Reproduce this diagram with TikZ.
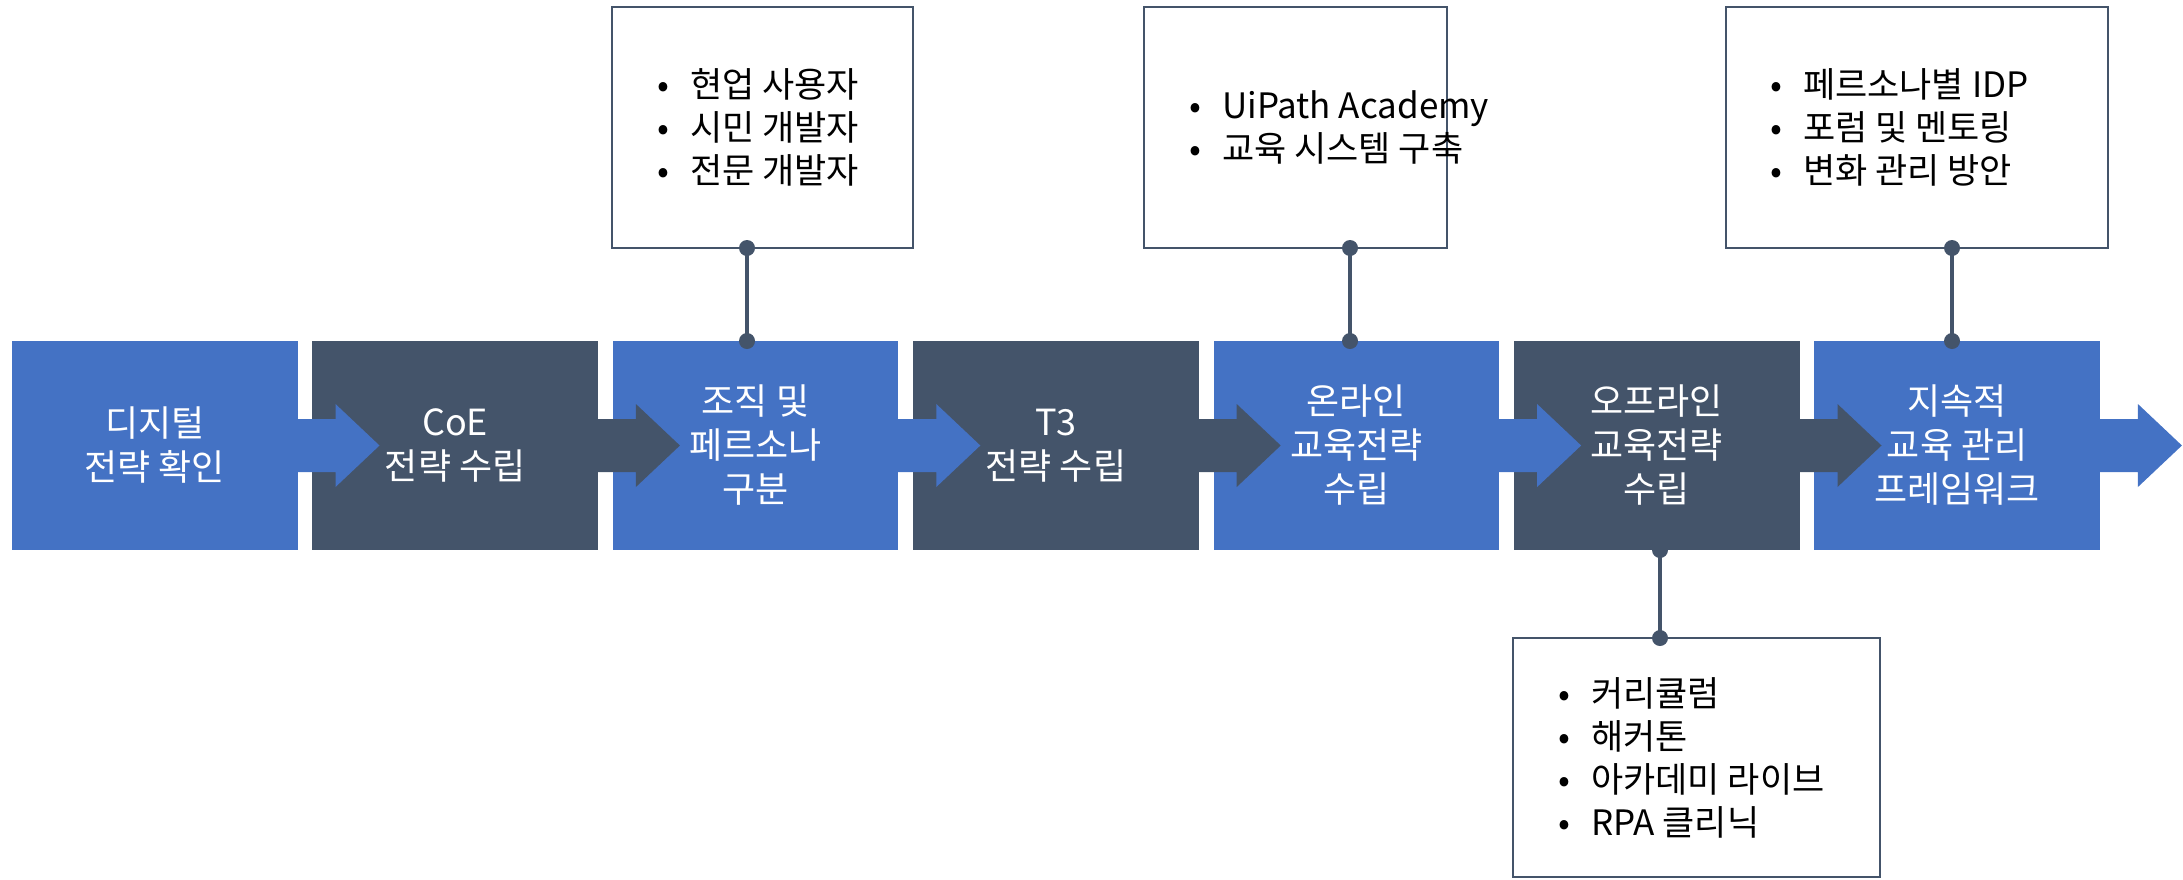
\documentclass[tikz,border=0pt]{standalone}
\usepackage{fontspec}
\setmainfont{Noto Sans CJK KR}
\usetikzlibrary{calc}
\definecolor{cblue}{HTML}{4472C4}
\definecolor{cdark}{HTML}{44546A}
\newcommand\bulletmark{\makebox[33pt][l]{•}}
\begin{document}
\begin{tikzpicture}[x=1pt,y=-1pt,
  stagebox/.style={anchor=north west, minimum width=285.5pt, minimum height=209pt, inner sep=0pt, outer sep=0pt, draw=none},
  stagetext/.style={text=white, align=center, font=\fontsize{36}{44}\selectfont, inner sep=0pt},
  callout/.style={anchor=north west, draw=cdark, line width=2pt, fill=white, inner sep=0pt, outer sep=0pt},
  callouttext/.style={anchor=west, align=left, font=\fontsize{35}{43}\selectfont, inner sep=0pt, text=black},
  conn/.style={draw=cdark, line width=4pt},
  dot/.style={circle, fill=cdark, minimum size=16pt, inner sep=0pt}
]
\useasboundingbox (0,0) rectangle (2183,879);
% stage boxes
\node[stagebox, fill=cblue] (b1) at (12,341) {};
\node[stagebox, fill=cdark] (b2) at (312.4,341) {};
\node[stagebox, fill=cblue] (b3) at (612.8,341) {};
\node[stagebox, fill=cdark] (b4) at (913.2,341) {};
\node[stagebox, fill=cblue] (b5) at (1213.6,341) {};
\node[stagebox, fill=cdark] (b6) at (1514,341) {};
\node[stagebox, fill=cblue] (b7) at (1814.4,341) {};
% arrows
\foreach \b/\c in {b1/cblue,b2/cdark,b3/cblue,b4/cdark,b5/cblue,b6/cdark,b7/cblue}{
  \fill[\c] ($(\b.east)+(-1,-26.5)$) -- ++(39,0) -- ++(0,-15) -- ++(44,41.5) -- ++(-44,41.5) -- ++(0,-15) -- ++(-39,0) -- cycle;
}
% stage texts
\node[stagetext] (s1) at (b1.center) {디지털\\전략 확인};
\node[stagetext] (s2) at (b2.center) {CoE\\전략 수립};
\node[stagetext] (s3) at (b3.center) {조직 및\\페르소나\\구분};
\node[stagetext] (s4) at (b4.center) {T3\\전략 수립};
\node[stagetext] (s5) at (b5.center) {온라인\\교육전략\\수립};
\node[stagetext] (s6) at (b6.center) {오프라인\\교육전략\\수립};
\node[stagetext] (s7) at (b7.center) {지속적\\교육 관리\\프레임워크};
% callout boxes
\node[callout, minimum width=301pt, minimum height=241pt] (t1) at (612,7) {};
\node[callout, minimum width=303pt, minimum height=241pt] (t2) at (1144,7) {};
\node[callout, minimum width=382pt, minimum height=241pt] (t3) at (1726,7) {};
\node[callout, minimum width=367pt, minimum height=239pt] (t4) at (1513,638) {};
% connectors
\coordinate (k1) at (747,0);
\coordinate (k2) at (1350,0);
\coordinate (k3) at (1952,0);
\coordinate (k4) at (1660,0);
\draw[conn] (t1.south -| k1) -- (b3.north -| k1);
\draw[conn] (t2.south -| k2) -- (b5.north -| k2);
\draw[conn] (t3.south -| k3) -- (b7.north -| k3);
\draw[conn] (b6.south -| k4) -- (t4.north -| k4);
\node[dot] (d1a) at (t1.south -| k1) {};
\node[dot] (d1b) at (b3.north -| k1) {};
\node[dot] (d2a) at (t2.south -| k2) {};
\node[dot] (d2b) at (b5.north -| k2) {};
\node[dot] (d3a) at (t3.south -| k3) {};
\node[dot] (d3b) at (b7.north -| k3) {};
\node[dot] (d4a) at (b6.south -| k4) {};
\node[dot] (d4b) at (t4.north -| k4) {};
% callout texts
\node[callouttext] (l1) at ($(t1.west)+(45,0)$) {\bulletmark 현업 사용자\\\bulletmark 시민 개발자\\\bulletmark 전문 개발자};
\node[callouttext] (l2) at ($(t2.west)+(45,0)$) {\bulletmark UiPath Academy\\\bulletmark 교육 시스템 구축};
\node[callouttext] (l3) at ($(t3.west)+(44,0)$) {\bulletmark 페르소나별 IDP\\\bulletmark 포럼 및 멘토링\\\bulletmark 변화 관리 방안};
\node[callouttext] (l4) at ($(t4.west)+(45,0)$) {\bulletmark 커리큘럼\\\bulletmark 해커톤\\\bulletmark 아카데미 라이브\\\bulletmark RPA 클리닉};
\end{tikzpicture}
\end{document}
